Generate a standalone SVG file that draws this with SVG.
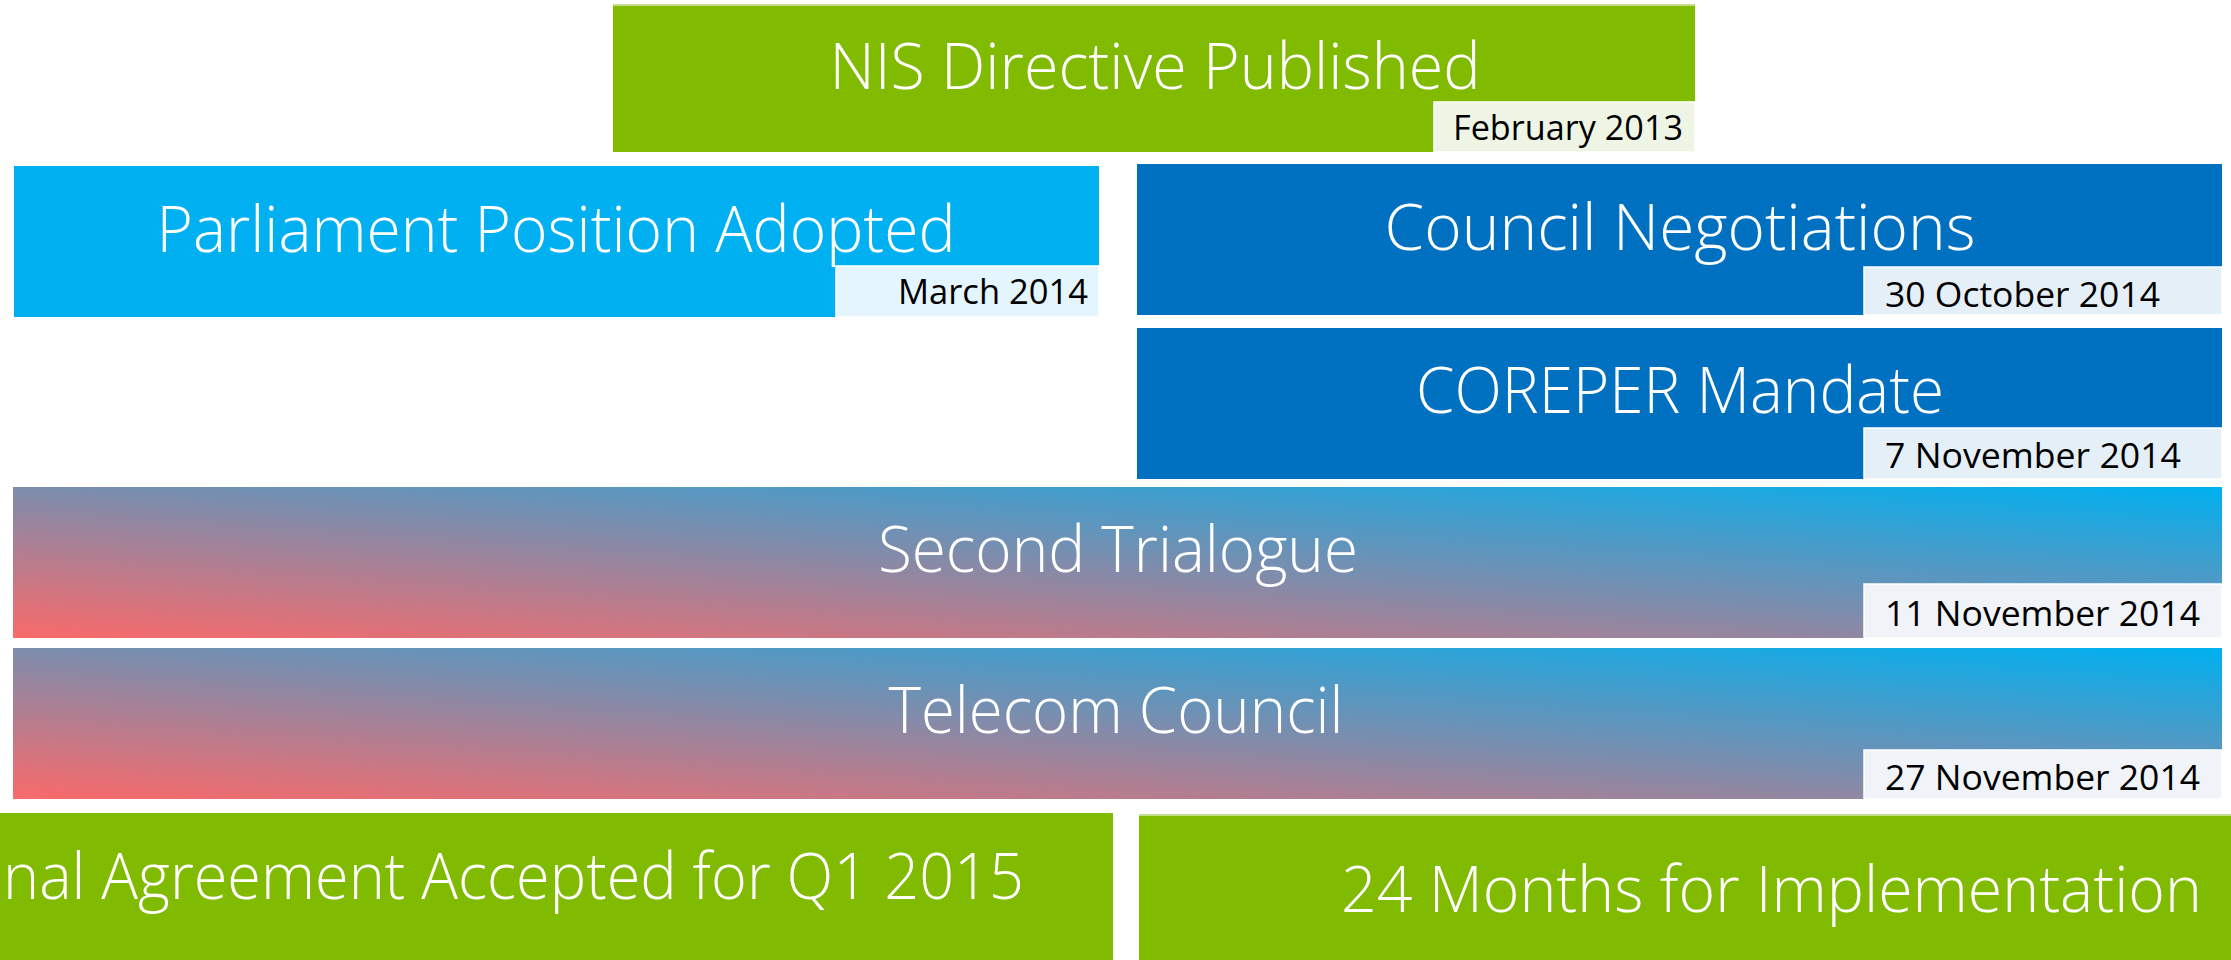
<svg xmlns="http://www.w3.org/2000/svg" width="2231" height="960" viewBox="0 0 2231 960">
<defs>
<linearGradient id="grad" x1="0" y1="1" x2="1" y2="0">
<stop offset="0" stop-color="#F96A6A"/>
<stop offset="1" stop-color="#00B0F0"/>
</linearGradient>
<style>
.title{font-family:"Open Sans","Noto Sans","Liberation Sans",sans-serif;font-weight:300;font-size:64px;fill:#FFFFFF}
.date{font-family:"Open Sans","Noto Sans","Liberation Sans",sans-serif;font-weight:400;font-size:34px;fill:#000000}
.green{fill:#80BA01}
.lblue{fill:#00B0F0}
.dblue{fill:#0070C0}
.grad{fill:url(#grad)}
.dbox{stroke:#FFFFFF;stroke-width:1.5}
.hl{stroke:#C3DD8C;stroke-width:2}
</style>
</defs>
<rect width="2231" height="960" fill="#FFFFFF"/>
<g id="connectors"/>
<g id="nis">
<rect class="green" x="613" y="4" width="1082" height="148"/>
<line class="hl" x1="613" y1="5" x2="1695" y2="5"/>
<text class="title" x="1155" y="89" text-anchor="middle" textLength="651" lengthAdjust="spacingAndGlyphs">NIS Directive Published</text>
<rect class="dbox" x="1434" y="102" width="261" height="50" fill="#EFF5E5"/>
<text class="date" x="1453" y="140" textLength="230" lengthAdjust="spacingAndGlyphs">February 2013</text>
</g>
<g id="parliament">
<rect class="lblue" x="14" y="166" width="1085" height="151"/>
<text class="title" x="556" y="252" text-anchor="middle" textLength="799" lengthAdjust="spacingAndGlyphs">Parliament Position Adopted</text>
<rect class="dbox" x="836" y="266" width="263" height="51" fill="#E5F5FD"/>
<text class="date" x="898" y="304" textLength="190" lengthAdjust="spacingAndGlyphs">March 2014</text>
</g>
<g id="council">
<rect class="dblue" x="1137" y="164" width="1085" height="151"/>
<text class="title" x="1680" y="250" text-anchor="middle" textLength="591" lengthAdjust="spacingAndGlyphs">Council Negotiations</text>
<rect class="dbox" x="1864" y="267" width="358" height="48" fill="#E5EFF8"/>
<text class="date" x="1885" y="307" textLength="275" lengthAdjust="spacingAndGlyphs">30 October 2014</text>
</g>
<g id="coreper">
<rect class="dblue" x="1137" y="328" width="1085" height="151"/>
<text class="title" x="1680" y="413" text-anchor="middle" textLength="528" lengthAdjust="spacingAndGlyphs">COREPER Mandate</text>
<rect class="dbox" x="1864" y="428" width="358" height="51" fill="#E5EFF8"/>
<text class="date" x="1885" y="468" textLength="296" lengthAdjust="spacingAndGlyphs">7 November 2014</text>
</g>
<g id="trialogue">
<rect class="grad" x="13" y="487" width="2209" height="151"/>
<text class="title" x="1118" y="572" text-anchor="middle" textLength="480" lengthAdjust="spacingAndGlyphs">Second Trialogue</text>
<rect class="dbox" x="1864" y="584" width="358" height="54" fill="#F0F3F7"/>
<text class="date" x="1885" y="626" textLength="315" lengthAdjust="spacingAndGlyphs">11 November 2014</text>
</g>
<g id="telecom">
<rect class="grad" x="13" y="648" width="2209" height="151"/>
<text class="title" x="1116" y="733" text-anchor="middle" textLength="455" lengthAdjust="spacingAndGlyphs">Telecom Council</text>
<rect class="dbox" x="1864" y="750" width="358" height="49" fill="#F0F3F7"/>
<text class="date" x="1885" y="790" textLength="315" lengthAdjust="spacingAndGlyphs">27 November 2014</text>
</g>
<g id="agreement">
<rect class="green" x="0" y="813" width="1113" height="147"/>
<text class="title" x="3" y="899" textLength="1021" lengthAdjust="spacingAndGlyphs">nal Agreement Accepted for Q1 2015</text>
</g>
<g id="implementation">
<rect class="green" x="1139" y="814" width="1092" height="146"/>
<line class="hl" x1="1139" y1="815" x2="2231" y2="815"/>
<text class="title" x="1341" y="912" textLength="861" lengthAdjust="spacingAndGlyphs">24 Months for Implementation</text>
</g>
</svg>
